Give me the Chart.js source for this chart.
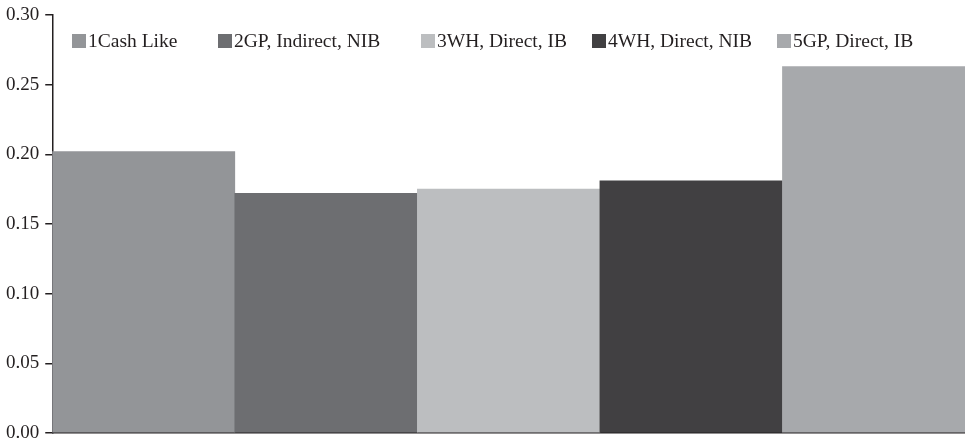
<!DOCTYPE html>
<html>
<head>
<meta charset="utf-8">
<script src="https://cdn.jsdelivr.net/npm/chart.js@4/dist/chart.umd.min.js"></script>
<style>
  html, body { margin: 0; padding: 0; background: #fff; }
  #wrap { width: 965px; height: 442px; }
</style>
</head>
<body>
<div id="wrap"><canvas id="chart"></canvas></div>
<script>
const categories = ["1Cash Like", "2GP, Indirect, NIB", "3WH, Direct, IB", "4WH, Direct, NIB", "5GP, Direct, IB"];
const values = [0.202, 0.172, 0.175, 0.181, 0.263];
const barColors = ["#939598", "#6d6e71", "#bcbec0", "#414042", "#a7a9ac"];
const yTicks = [0, 0.05, 0.10, 0.15, 0.20, 0.25, 0.30];

const FONT = "'Liberation Serif', serif";
Chart.defaults.font.family = FONT;
Chart.defaults.color = "#231f20";

// legend drawn inside the plot area, like the original
const legendX = [72, 218, 421, 592, 777];
const insideLegend = {
    id: "insideLegend",
    afterDraw(chart) {
        const ctx = chart.ctx;
        ctx.save();
        ctx.font = "19.5px " + FONT;
        ctx.textBaseline = "middle";
        categories.forEach((name, i) => {
            const x = legendX[i];
            const y = 41;
            ctx.fillStyle = barColors[i];
            ctx.fillRect(x, y - 7, 14, 14);
            ctx.fillStyle = "#231f20";
            ctx.fillText(name, x + 16, y + 1);
        });
        ctx.restore();
    }
};

new Chart(document.getElementById("chart"), {
    type: "bar",
    data: {
        labels: categories,
        datasets: [{
            data: values,
            backgroundColor: barColors,
            barPercentage: 1,
            categoryPercentage: 1
        }]
    },
    options: {
        responsive: true,
        maintainAspectRatio: false,
        animation: false,
        layout: { padding: { top: 15, right: 0, bottom: 9, left: 0 } },
        plugins: { legend: { display: false }, tooltip: { enabled: false } },
        scales: {
            x: {
                ticks: { display: false },
                grid: { display: false, drawTicks: false },
                border: { color: "#231f20", width: 1.5 },
                afterFit: (axis) => { axis.height = 0; }
            },
            y: {
                min: 0,
                max: 0.30,
                afterBuildTicks: (axis) => { axis.ticks = yTicks.map(v => ({ value: v })); },
                afterFit: (axis) => { axis.paddingTop = 0; axis.paddingBottom = 0; },
                ticks: {
                    font: { size: 19 },
                    color: "#231f20",
                    padding: 6,
                    callback: (v) => v.toFixed(2)
                },
                grid: { drawOnChartArea: false, tickLength: 7, color: "#231f20", lineWidth: 1.5 },
                border: { color: "#231f20", width: 1.5 }
            }
        }
    },
    plugins: [insideLegend]
});
</script>
</body>
</html>
